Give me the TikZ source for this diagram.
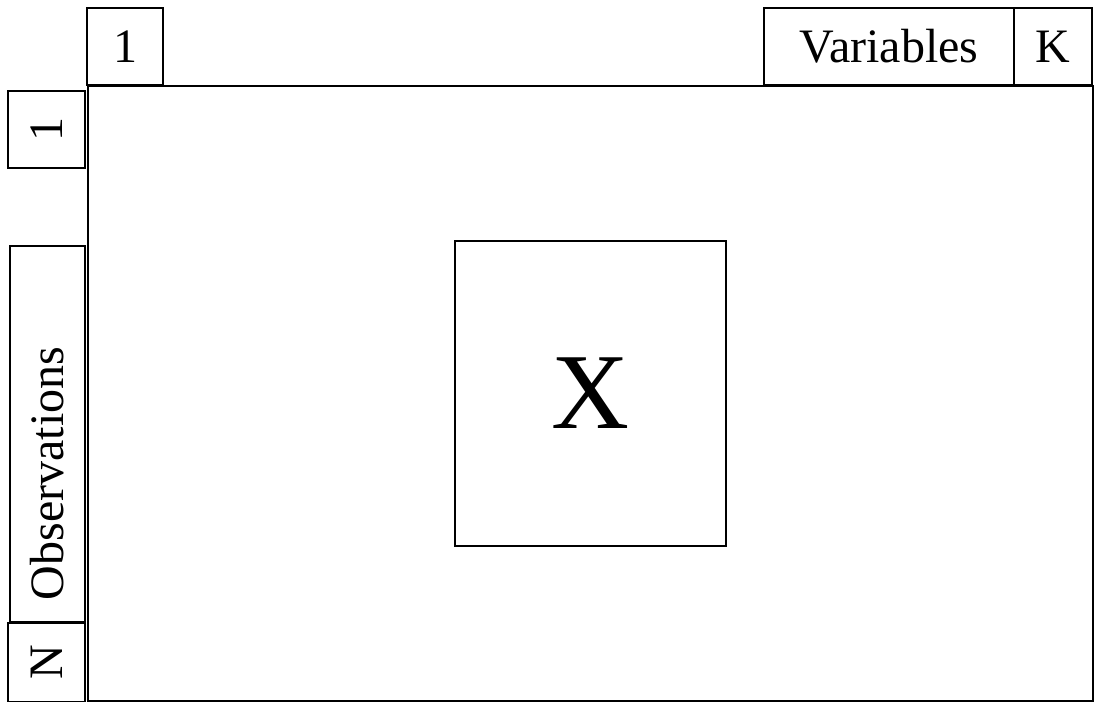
\documentclass[tikz,border=0pt]{standalone}
\usepackage{fontspec}
\setmainfont{Liberation Serif}
\usetikzlibrary{positioning}

\begin{document}
\begin{tikzpicture}[
  x=0.5pt, y=-0.5pt,
  font=\fontsize{24}{28}\selectfont,
  cell/.style={draw=black, line width=1pt, inner sep=0pt, minimum height=38.5pt},
  side/.style={cell, rotate=90},
]
\useasboundingbox (0,0) rectangle (1094,702);

% data matrix
\node[draw, line width=1pt, minimum width=502.5pt, minimum height=307.5pt,
      anchor=north west] (data) at (87,85) {};
\node[draw, line width=1pt, minimum width=135.5pt, minimum height=152.5pt,
      font=\fontsize{54}{60}\selectfont] (x) at (data.center) {X};

% variables along the top
\node[cell, minimum width=38pt]    (var1) at (125,46.5)  {1};
\node[cell, minimum width=125pt]   (vars) at (889,46.5)  {Variables};
\node[cell, minimum width=39pt, right=-1pt of vars] (vark) {K};

% observations down the side
\node[side, minimum width=38.5pt]  (obs1) at (46.5,129.5) {1};
\node[side, minimum height=37.5pt, inner xsep=11pt, text width=166pt,
      align=left] (obs) at (47.5,434) {Observations};
\node[side, minimum width=39.5pt]  (obsn) at (46.5,662.5) {N};
\end{tikzpicture}
\end{document}
